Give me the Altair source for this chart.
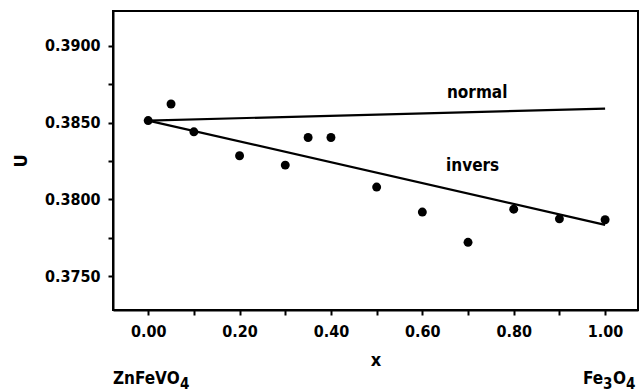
import altair as alt
import pandas as pd

# measured points
px = [0.00, 0.05, 0.10, 0.20, 0.30, 0.35, 0.40, 0.50, 0.60, 0.70, 0.80, 0.90, 1.00]
pu = [0.38513, 0.38621, 0.38440, 0.38284, 0.38223, 0.38403, 0.38403, 0.38080,
      0.37917, 0.37720, 0.37936, 0.37873, 0.37867]

# model lines
line_x = [0.0, 1.0]
normal_u = [0.38513, 0.38591]
invers_u = [0.38513, 0.37834]

# in-plot labels
lab_text = ["normal", "invers"]
lab_x = [0.72, 0.71]
lab_u = [0.38695, 0.38214]

x_ticks = [0.0, 0.1, 0.2, 0.3, 0.4, 0.5, 0.6, 0.7, 0.8, 0.9, 1.0]
y_ticks = [0.3750, 0.3775, 0.3800, 0.3825, 0.3850, 0.3875, 0.3900]

x_dom = [-0.077, 1.072]
y_dom = [0.37279, 0.39227]

# end-member labels (left: x = 0 side, right: x = 1 side)
end_left = "ZnFeVO"
end_left_sub = "4"
end_right_parts = ["Fe", "3", "O", "4"]

FONT = "DejaVu Sans Condensed"

pts = pd.DataFrame({"x": px, "u": pu})
lines = pd.DataFrame({
    "x": line_x + line_x,
    "u": normal_u + invers_u,
    "model": ["normal"] * 2 + ["invers"] * 2,
})
labs = pd.DataFrame({"x": lab_x, "u": lab_u, "t": lab_text})
anchor = pd.DataFrame({"x": [x_dom[0], x_dom[1]], "side": ["L", "R"]})

xs = alt.Scale(domain=x_dom, nice=False, zero=False)
ys = alt.Scale(domain=y_dom, nice=False, zero=False)

xax = alt.Axis(values=x_ticks, title="x",
               labelExpr="round(datum.value*10) % 2 == 0 ? format(datum.value, '.2f') : ''",
               grid=False, tickSize=5, tickWidth=2, tickColor="black",
               domainColor="black", domainWidth=2, labelPadding=8,
               labelFont=FONT, labelFontSize=16, labelFontWeight="bold",
               labelColor="black",
               titleFont=FONT, titleFontSize=18, titleFontWeight="bold",
               titleColor="black", titlePadding=12)
yax = alt.Axis(values=y_ticks, title="U",
               labelExpr="round(datum.value*400) % 2 == 0 ? format(datum.value, '.4f') : ''",
               grid=False, tickSize=5, tickWidth=2, tickColor="black",
               domainColor="black", domainWidth=2, labelPadding=8,
               labelFont=FONT, labelFontSize=16, labelFontWeight="bold",
               labelColor="black",
               titleFont=FONT, titleFontSize=18, titleFontWeight="bold",
               titleColor="black", titlePadding=14)

points = alt.Chart(pts).mark_circle(size=80, color="black", opacity=1).encode(
    x=alt.X("x:Q", scale=xs, axis=xax),
    y=alt.Y("u:Q", scale=ys, axis=yax),
)

lns = alt.Chart(lines).mark_line(color="black", strokeWidth=2.2).encode(
    x=alt.X("x:Q", scale=xs),
    y=alt.Y("u:Q", scale=ys),
    detail="model:N",
)

texts = alt.Chart(labs).mark_text(font=FONT, fontSize=17, fontWeight="bold",
                                  color="black").encode(
    x=alt.X("x:Q", scale=xs),
    y=alt.Y("u:Q", scale=ys),
    text="t:N",
)


def piece(side, txt, size, dx, dy):
    return alt.Chart(anchor).transform_filter(f"datum.side == '{side}'").mark_text(
        font=FONT, fontSize=size, fontWeight="bold", color="black", align="left",
        dx=dx, dy=dy, clip=False).encode(
        x=alt.X("x:Q", scale=xs), y=alt.value(368), text=alt.value(txt))


end_marks = [
    piece("L", end_left, 17, 0, 0),
    piece("L", end_left_sub, 15, 67, 5),
    piece("R", end_right_parts[0], 17, -55, 0),
    piece("R", end_right_parts[1], 15, -35, 5),
    piece("R", end_right_parts[2], 17, -25, 0),
    piece("R", end_right_parts[3], 15, -12, 5),
]

chart = alt.layer(points, lns, texts, *end_marks).properties(
    width=525, height=299,
    autosize=alt.AutoSizeParams(type="none"),
    padding={"left": 113, "top": 11, "right": 4, "bottom": 82},
    background="white",
).configure_view(stroke="black", strokeWidth=2)

chart.save("out.html", embed_options={"renderer": "svg", "actions": False})
